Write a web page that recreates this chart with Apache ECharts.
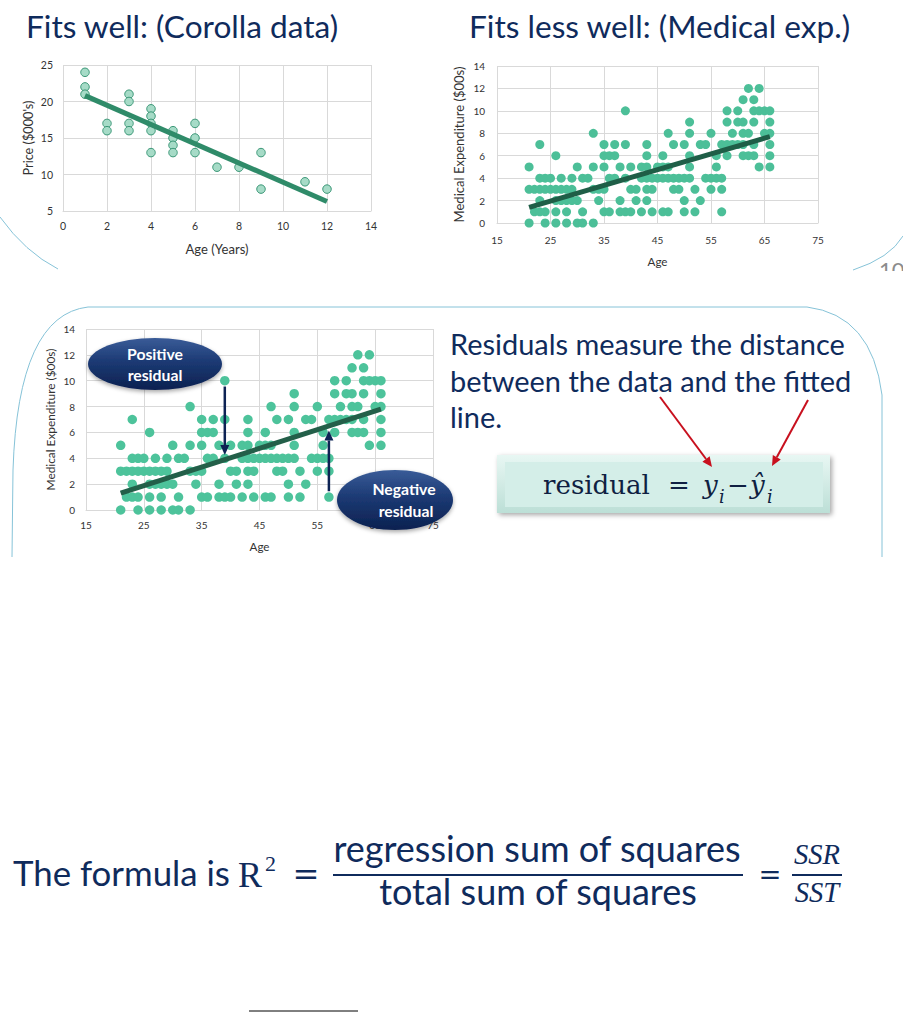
<!DOCTYPE html>
<html><head><meta charset="utf-8">
<script src="https://cdn.jsdelivr.net/npm/echarts@6/dist/echarts.min.js"></script>
<style>html,body{margin:0;padding:0;background:#fff;}#c{width:903px;height:1012px;}</style>
</head><body><div id="c"></div>
<script>
// ---------- data ----------
const corollaAge   = [1,1,1, 2,2, 3,3,3,3, 4,4,4,4,4, 5,5,5,5, 6,6,6, 7, 8, 9,9, 11, 12];
const corollaPrice = [24,22,21, 17,16, 21,20,17,16, 19,18,17,16,13, 16,15,14,13, 17,15,13, 11, 11, 13,8, 9, 8];
const corollaFitAge = [1, 12];
const corollaFitPrice = [20.8, 6.3];

const medAge = [
21,21,21, 22,22, 23,23,23,23,23, 24,24,24,24, 25,25, 26,26,26,26,26, 27,27,27, 28,28,28,28, 29,29,29, 30,30,30,
31,31,31, 32, 33,33,33,33, 34,34, 35,35,35,35,35, 36,36,36, 37,37,37, 38,38,38, 39,39,39,39, 40,40,40,
41,41, 42,42,42, 43,43,43,43,43,43, 44,44,44, 45,45, 46,46,46,46, 47,47,47,47, 48,48,48, 49,49, 50,50,50,50,
51,51,51,51,51, 52,52, 53,53, 54,54, 55,55,55, 56,56,56, 57,57,57,57, 58,58,58,58, 59,59, 60,60,60,
61,61,61,61,61, 62,62,62, 63,63,63,63,63, 64,64,64, 65,65, 66,66,66,66,66,66];
const medExp = [
5,3,0, 3,1, 7,4,3,2,1, 4,3,1,0, 4,3, 6,3,2,1,0, 4,3,2, 3,2,1,0, 4,3,2, 5,2,0,
4,1,0, 4, 8,5,3,0, 3,2, 7,6,5,3,1, 6,4,1, 7,6,4, 5,2,1, 10,7,4,1, 5,3,1,
3,2, 5,4,1, 7,6,5,4,3,2, 4,3,1, 5,4, 6,5,4,1, 8,5,4,1, 7,4,3, 4,3, 7,4,2,1,
9,8,6,5,4, 3,1, 7,2, 7,4, 8,4,3, 6,5,4, 7,4,3,1, 10,9,7,6, 8,7, 10,9,7,
11,9,8,7,6, 12,8,6, 11,10,9,7,6, 12,10,5, 10,8, 10,9,8,7,6,5];
const medFitAge = [21, 66];
const medFitExp = [1.4, 7.7];
const resFitAge = [21, 66];
const resFitExp = [1.3, 7.8];
// residual arrows: [age, start value, end value]
const positiveArrow = [39, 9.55, 4.25];
const negativeArrow = [57, 1.45, 6.15];

// ---------- styling helpers ----------
const SANS = 'Lato, "Open Sans", sans-serif';
const SERIF = '"Liberation Serif", "DejaVu Serif", serif';
const MATH = '"DejaVu Serif", serif';
const NAVY = '#0f2b5c';
const BLUE = '#86c3d8';
const ctx = document.createElement('canvas').getContext('2d');
function fontStr(o, size){ return (o.style||'normal')+' '+(o.weight||'normal')+' '+size+'px '+o.family; }
function fitSize(text, o, target){ ctx.font = fontStr(o, 100); return 100*target/ctx.measureText(text).width; }
function midK(o){ ctx.font = fontStr(o, 100); const m = ctx.measureText('Hxg');
  if (m.fontBoundingBoxAscent !== undefined) return (m.fontBoundingBoxAscent - m.fontBoundingBoxDescent)/200; return 0.35; }
function label(text, x, baseline, o){
  const f = {family:o.family||SANS, weight:o.weight||'normal', style:o.style||'normal'};
  const size = o.size || fitSize(text, f, o.width);
  const k = midK(f);
  return {type:'text', z:o.z||50, silent:true, style:{text:text, x:x, y:baseline-k*size, fontSize:size,
    fontFamily:f.family, fontWeight:f.weight, fontStyle:f.style, fill:o.color||NAVY,
    textAlign:o.align||'left', textVerticalAlign:'middle', verticalAlign:'middle'}};
}
function line(x1,y1,x2,y2,color,w,z){ return {type:'line', z:z||50, silent:true, shape:{x1:x1,y1:y1,x2:x2,y2:y2}, style:{stroke:color,lineWidth:w}}; }
function curve(x1,y1,cx,cy,x2,y2,color,w,z){ return {type:'bezierCurve', z:z||1, silent:true, shape:{x1:x1,y1:y1,cpx1:cx,cpy1:cy,x2:x2,y2:y2}, style:{stroke:color,fill:null,lineWidth:w}}; }
function arrowHead(x1,y1,x2,y2,len,half,color,w){
  const dx=x2-x1, dy=y2-y1, L=Math.hypot(dx,dy), ux=dx/L, uy=dy/L;
  const bx=x2-len*ux, by=y2-len*uy;
  return [line(x1,y1,bx,by,color,w||2,55),
    {type:'polygon', z:55, silent:true, shape:{points:[[x2,y2],[bx-half*uy,by+half*ux],[bx+half*uy,by-half*ux]]}, style:{fill:color}}];
}
const nameSize = (t,w)=>fitSize(t,{family:SANS},w);

function xAxisCfg(grid, min, max, interval, name, nameW, gap, margin, fs){
  return {gridIndex:grid, type:'value', min:min, max:max, interval:interval,
    axisLine:{show:true, lineStyle:{color:'#d9d9d9'}}, axisTick:{show:false},
    splitLine:{show:true, lineStyle:{color:'#d9d9d9', width:1}},
    axisLabel:{color:'#333333', fontFamily:SANS, fontSize:fs, margin:margin},
    name:name, nameLocation:'middle', nameGap:gap,
    nameTextStyle:{color:'#333333', fontFamily:SANS, fontSize:nameSize(name,nameW)}};
}
function yAxisCfg(grid, min, max, interval, name, nameW, gap, margin, fs){
  return {gridIndex:grid, type:'value', min:min, max:max, interval:interval,
    axisLine:{show:false}, axisTick:{show:false},
    splitLine:{show:true, lineStyle:{color:'#d9d9d9', width:1}},
    axisLabel:{color:'#333333', fontFamily:SANS, fontSize:fs, margin:margin},
    name:name, nameLocation:'middle', nameGap:gap, nameRotate:90,
    nameTextStyle:{color:'#333333', fontFamily:SANS, fontSize:nameSize(name,nameW)}};
}
const pairs = (a,b)=>a.map((v,i)=>[v,b[i]]);

// ---------- chart ----------
const chart = echarts.init(document.getElementById('c'), null, {renderer:'svg', width:903, height:1012});
chart.setOption({
  backgroundColor:'#ffffff',
  animation:false,
  grid:[
    {left:63, top:65, width:308, height:146},
    {left:497, top:66, width:321, height:157},
    {left:86, top:329, width:347, height:181}
  ],
  xAxis:[
    xAxisCfg(0, 0, 14, 2, 'Age (Years)', 63, 31, 9, 10.5),
    xAxisCfg(1, 15, 75, 10, 'Age', 20, 32, 12, 10),
    xAxisCfg(2, 15, 75, 10, 'Age', 20, 30, 10, 10)
  ],
  yAxis:[
    yAxisCfg(0, 5, 25, 5, "Price ($000's)", 75, 29, 10, 10.5),
    yAxisCfg(1, 0, 14, 2, 'Medical Expenditure ($00s)', 156, 32, 12, 10),
    yAxisCfg(2, 0, 14, 2, 'Medical Expenditure ($00s)', 142, 30, 11, 10)
  ],
  series:[
    {type:'scatter', xAxisIndex:0, yAxisIndex:0, data:pairs(corollaAge, corollaPrice), symbolSize:8.5, z:2,
      itemStyle:{color:'#a6dbc7', borderColor:'#3c9878', borderWidth:1, opacity:1}, silent:true},
    {type:'line', xAxisIndex:0, yAxisIndex:0, data:pairs(corollaFitAge, corollaFitPrice), showSymbol:false, symbol:'none', z:3,
      lineStyle:{color:'#2f8b69', width:5}, silent:true},
    {type:'scatter', xAxisIndex:1, yAxisIndex:1, data:pairs(medAge, medExp), symbolSize:9, z:2,
      itemStyle:{color:'#4cbf98', opacity:1}, silent:true},
    {type:'line', xAxisIndex:1, yAxisIndex:1, data:pairs(medFitAge, medFitExp), showSymbol:false, symbol:'none', z:3,
      lineStyle:{color:'#1f5e47', width:5}, silent:true},
    {type:'scatter', xAxisIndex:2, yAxisIndex:2, data:pairs(medAge, medExp), symbolSize:9.5, z:2,
      itemStyle:{color:'#4dc39b', opacity:1}, silent:true},
    {type:'line', xAxisIndex:2, yAxisIndex:2, data:pairs(resFitAge, resFitExp), showSymbol:false, symbol:'none', z:3,
      lineStyle:{color:'#235f49', width:5}, silent:true}
  ]
});

// ---------- graphic overlay ----------
const g = [];
// titles
g.push(label('Fits well: (Corolla data)', 26, 38, {width:313}));
g.push(label('Fits less well: (Medical exp.)', 469, 38, {width:382}));
// decorative slide frames
g.push(curve(0,217,25,252,58,269,BLUE,1));
g.push(curve(853,270,890,258,903,236,BLUE,1));
g.push(label('10', 879, 278, {size:22, color:'#8c8c8c', z:5}));
g.push({type:'rect', z:6, silent:true, shape:{x:830, y:271, width:73, height:30}, style:{fill:'#ffffff'}});
g.push(line(12,557,13,470,BLUE,1,1));
g.push(curve(13,470,18,315,88,307,BLUE,1));
g.push(line(88,307,807,307,BLUE,1,1));
g.push(curve(807,307,872,315,882,395,BLUE,1));
g.push(line(882,395,882,557,BLUE,1,1));

// residual arrows positioned through the bottom chart's scales
[positiveArrow, negativeArrow].forEach(a=>{
  const p1 = chart.convertToPixel({gridIndex:2}, [a[0], a[1]]);
  const p2 = chart.convertToPixel({gridIndex:2}, [a[0], a[2]]);
  arrowHead(p1[0],p1[1],p2[0],p2[1],10,4.5,'#0d2354',2.5).forEach(e=>g.push(e));
});

// callout ellipses
const ellFill = {type:'linear', x:0, y:0, x2:0, y2:1, colorStops:[{offset:0,color:'#3a5c98'},{offset:0.45,color:'#1c3a74'},{offset:1,color:'#0c2150'}]};
g.push({type:'ellipse', z:40, silent:true, shape:{cx:155, cy:364, rx:67, ry:26}, style:{fill:ellFill, shadowBlur:4, shadowColor:'rgba(0,0,0,0.35)', shadowOffsetY:2}});
g.push({type:'ellipse', z:40, silent:true, shape:{cx:395, cy:500, rx:58, ry:30}, style:{fill:ellFill, shadowBlur:4, shadowColor:'rgba(0,0,0,0.35)', shadowOffsetY:2}});
const ellTxtSize = fitSize('Positive', {family:SANS, weight:'bold'}, 56);
g.push(label('Positive', 155, 360, {size:ellTxtSize, weight:'bold', color:'#ffffff', align:'center'}));
g.push(label('residual', 155, 381, {size:ellTxtSize, weight:'bold', color:'#ffffff', align:'center'}));
g.push(label('Negative', 404, 495, {size:ellTxtSize, weight:'bold', color:'#ffffff', align:'center'}));
g.push(label('residual', 406, 517, {size:ellTxtSize, weight:'bold', color:'#ffffff', align:'center'}));

// explanatory text
const paraSize = fitSize('Residuals measure the distance', {family:SANS}, 395);
g.push(label('Residuals measure the distance', 450, 355, {size:paraSize}));
g.push(label('between the data and the fitted', 450, 392, {size:paraSize}));
g.push(label('line.', 450, 428, {size:paraSize}));

// residual formula box
g.push({type:'rect', z:30, silent:true, shape:{x:497, y:455, width:333, height:58},
  style:{fill:{type:'linear',x:0,y:0,x2:0,y2:1,colorStops:[{offset:0,color:'#e8f7f3'},{offset:1,color:'#bcdfd6'}]}, shadowBlur:5, shadowColor:'rgba(0,0,0,0.35)', shadowOffsetX:2, shadowOffsetY:2}});
g.push({type:'rect', z:31, silent:true, shape:{x:505, y:462, width:318, height:45}, style:{fill:'#d4eee8'}});
const fSize = fitSize('residual', {family:MATH}, 107);
const FC = '#0f1f42';
g.push(label('residual', 543, 494, {family:MATH, size:fSize, color:FC}));
g.push(label('=', 679, 494, {family:MATH, size:fSize, color:FC, align:'center'}));
g.push(label('y', 703, 494, {family:MATH, style:'italic', size:fSize, color:FC}));
g.push(label('i', 719, 503, {family:MATH, style:'italic', size:fSize*0.68, color:FC}));
g.push(label('\u2212', 738, 494, {family:MATH, size:fSize, color:FC, align:'center'}));
g.push(label('\u0177', 750, 494, {family:MATH, style:'italic', size:fSize, color:FC}));
g.push(label('i', 767, 503, {family:MATH, style:'italic', size:fSize*0.68, color:FC}));
// red arrows
arrowHead(660,397,712,467,10,4.5,'#c8101e').forEach(e=>g.push(e));
arrowHead(808,400,772,466,10,4.5,'#c8101e').forEach(e=>g.push(e));

// R^2 formula
const bigSize = fitSize('regression sum of squares', {family:SANS}, 408);
g.push(label('The formula is', 13, 886, {width:217}));
g.push(label('R', 238, 887, {family:SERIF, size:36}));
g.push(label('2', 265, 871, {family:SERIF, size:22}));
const eqSize = fitSize('=', {family:MATH}, 27);
g.push(label('=', 306, 875 + 0.32*eqSize, {family:MATH, size:eqSize, align:'center'}));
g.push(label('regression sum of squares', 537, 862, {size:bigSize, align:'center'}));
g.push(line(333, 875, 743, 875, NAVY, 2));
g.push(label('total sum of squares', 538, 905, {size:bigSize, align:'center'}));
const eq2Size = fitSize('=', {family:MATH}, 23);
g.push(label('=', 770, 875 + 0.32*eq2Size, {family:MATH, size:eq2Size, align:'center'}));
const ssSize = fitSize('SSR', {family:SERIF, style:'italic'}, 46);
g.push(label('SSR', 817, 864, {family:SERIF, style:'italic', size:ssSize, align:'center'}));
g.push(line(792, 875, 842, 875, NAVY, 2));
g.push(label('SST', 817, 902, {family:SERIF, style:'italic', size:ssSize, align:'center'}));
g.push(line(249, 1011, 358, 1011, '#000000', 1));

chart.setOption({graphic:g});
</script>
</body></html>
